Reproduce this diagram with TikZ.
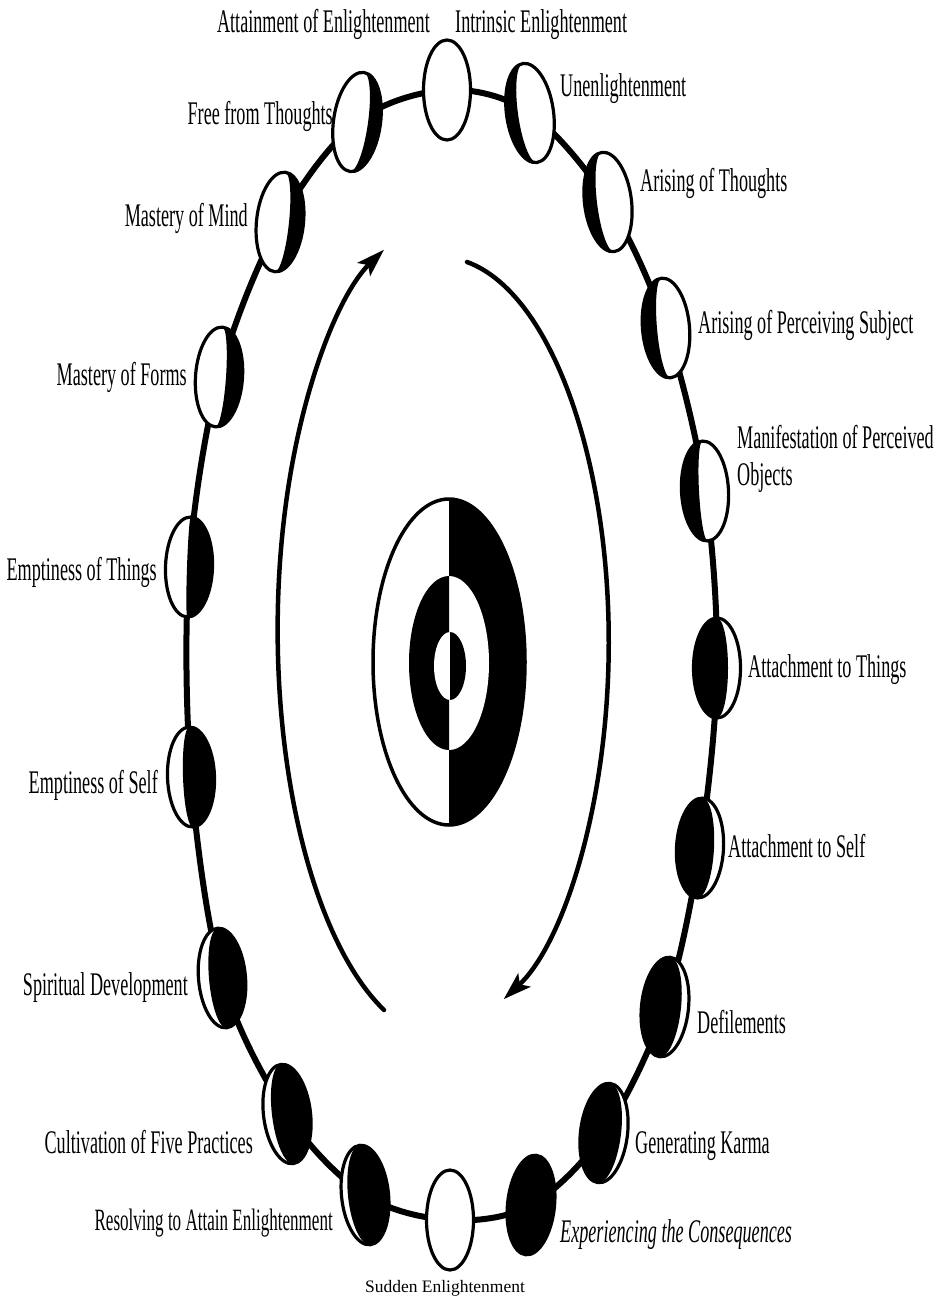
\documentclass[tikz,border=0pt]{standalone}
\usepackage{fontspec}
\usetikzlibrary{arrows.meta}
\newfontfamily\phasefont{Liberation Serif}[FakeStretch=0.55]
\newfontfamily\captfont{Liberation Serif}

\begin{document}
\begin{tikzpicture}[x=1pt,y=1pt,line cap=round,line join=round,
  ring/.style={line width=6pt},
  rim/.style={line width=3.2pt},
  turn/.style={line width=4.5pt,-{Stealth[length=28pt,width=18pt,inset=6pt]}},
  lab/.style={font=\phasefont\fontsize{33}{37}\selectfont,inner sep=0pt}]
 \useasboundingbox (0,0) rectangle (941,-1297);
 % stations on the ring, clockwise from the top
 \coordinate (m0) at (447,-90);
 \coordinate (m1) at (530,-113);
 \coordinate (m2) at (608,-202);
 \coordinate (m3) at (666,-328);
 \coordinate (m4) at (705,-491);
 \coordinate (m5) at (717,-668);
 \coordinate (m6) at (700,-848);
 \coordinate (m7) at (665,-1007);
 \coordinate (m8) at (604,-1133);
 \coordinate (m9) at (531,-1205);
 \coordinate (m10) at (450,-1220);
 \coordinate (m11) at (365,-1195);
 \coordinate (m12) at (287,-1114);
 \coordinate (m13) at (222,-978);
 \coordinate (m14) at (191,-777);
 \coordinate (m15) at (189,-567);
 \coordinate (m16) at (219,-377);
 \coordinate (m17) at (280,-222);
 \coordinate (m18) at (357,-122);
 \draw[ring] plot[smooth cycle,tension=0.55] coordinates {(m0) (m1) (m2) (m3) (m4) (m5) (m6) (m7) (m8) (m9) (m10) (m11) (m12) (m13) (m14) (m15) (m16) (m17) (m18)};

 % phases: position / tilt / dark side / terminator side / terminator radius
 \foreach \p/\r/\e/\f/\t in {m0/0/270/90/23.5, m1/8/270/90/12, m2/7/270/90/11,
   m3/5/270/90/9, m4/3/270/90/6, m5/0/270/450/11, m6/-3/270/450/14,
   m7/-6/270/450/16, m8/-7/270/450/17, m9/-6/270/450/23.5,
   m10/0/270/90/23.5, m11/6/-90/90/17, m12/7/-90/90/15, m13/5/-90/90/13,
   m14/2/-90/90/8, m15/-2/-90/90/2, m16/-4/-90/450/7, m17/-6/-90/450/9,
   m18/-8/-90/450/11}{
  \begin{scope}[shift={(\p)},rotate=\r]
   \fill[white] (0,0) ellipse[x radius=23.5,y radius=50];
   \fill (0,50) arc[start angle=90,end angle=\e,x radius=23.5,y radius=50]
     arc[start angle=270,end angle=\f,x radius=\t,y radius=50] -- cycle;
   \draw[rim] (0,0) ellipse[x radius=23.5,y radius=50];
  \end{scope}
 }

 % the target in the middle
 \fill (449,-499) arc[start angle=90,end angle=-90,x radius=76,y radius=163] -- cycle;
 \draw[line width=3.5pt] (449,-662) ellipse[x radius=76,y radius=163];
 \fill[white] (449,-576) arc[start angle=90,end angle=-90,x radius=40,y radius=87] -- cycle;
 \fill (449,-576) arc[start angle=90,end angle=270,x radius=40,y radius=87] -- cycle;
 \fill[white] (450,-632) arc[start angle=90,end angle=270,x radius=16,y radius=34] -- cycle;
 \fill (450,-632) arc[start angle=90,end angle=-90,x radius=16,y radius=34] -- cycle;

 % the two turning paths
 \coordinate (rise) at (384,-1010);
 \coordinate (fall) at (467,-262);
 \draw[turn] (rise) arc[start angle=-112,end angle=-248,x radius=170,y radius=410];
 \draw[turn] (fall) arc[start angle=81,end angle=-68,x radius=168,y radius=385];

 % names of the stages
 \node[lab,anchor=base east] (attain) at (430,-33) {Attainment of Enlightenment};
 \node[lab,anchor=base west] (intrinsic) at (455,-33) {Intrinsic Enlightenment};
 \node[lab,anchor=base west] (unenl) at (560,-97) {Unenlightenment};
 \node[lab,anchor=base west] (thoughts) at (640,-192) {Arising of Thoughts};
 \node[lab,anchor=base west] (subject) at (698,-333) {Arising of Perceiving Subject};
 \node[lab,anchor=base west,align=left] (objects) at (737,-485) {Manifestation of Perceived\\Objects};
 \node[lab,anchor=base west] (attthings) at (748,-677) {Attachment to Things};
 \node[lab,anchor=base west] (attself) at (728,-857) {Attachment to Self};
 \node[lab,anchor=base west] (defil) at (697,-1033) {Defilements};
 \node[lab,anchor=base west] (karma) at (635,-1153) {Generating Karma};
 \node[lab,anchor=base west] (conseq) at (560,-1242) {\itshape Experiencing the Consequences};
 \node[font=\captfont\fontsize{17.5}{20}\selectfont,inner sep=0pt,anchor=base] (sudden) at (445,-1292) {Sudden Enlightenment};
 \node[lab,anchor=base east,font=\phasefont\fontsize{31}{35}\selectfont] (resolve) at (333,-1230) {Resolving to Attain Enlightenment};
 \node[lab,anchor=base east] (five) at (253,-1153) {Cultivation of Five Practices};
 \node[lab,anchor=base east] (spirit) at (188,-995) {Spiritual Development};
 \node[lab,anchor=base east] (eself) at (158,-793) {Emptiness of Self};
 \node[lab,anchor=base east] (ethings) at (157,-580) {Emptiness of Things};
 \node[lab,anchor=base east] (forms) at (187,-385) {Mastery of Forms};
 \node[lab,anchor=base east] (mind) at (248,-227) {Mastery of Mind};
 \node[lab,anchor=base east] (free) at (333,-125) {Free from Thoughts};
\end{tikzpicture}
\end{document}
